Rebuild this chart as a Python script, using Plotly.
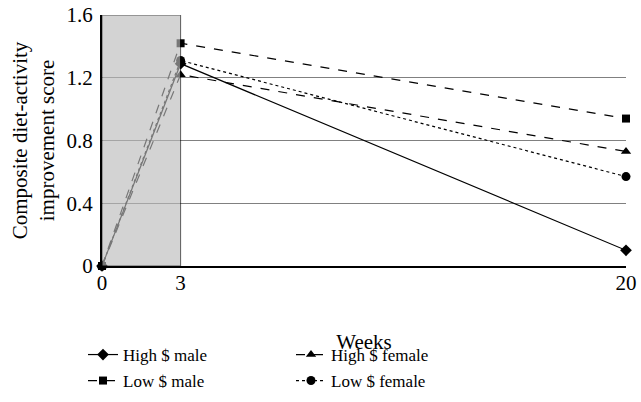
import plotly.graph_objects as go

weeks = [0, 3, 20]
high_male = [0, 1.29, 0.10]
low_male = [0, 1.42, 0.94]
high_female = [0, 1.22, 0.73]
low_female = [0, 1.31, 0.57]

y_ticks = [0, 0.4, 0.8, 1.2, 1.6]
y_tick_text = ["0", "0.4", "0.8", "1.2", "1.6"]
x_ticks = [0, 3, 20]
x_tick_text = ["0", "3", "20"]

FONT = "Liberation Serif"

series = [
    ("High $ male", high_male, "solid", "diamond", 9, "legend"),
    ("High $ female", high_female, "dash", "triangle-up", 9, "legend3"),
    ("Low $ male", low_male, "dash", "square", 8, "legend2"),
    ("Low $ female", low_female, "dot", "circle", 9, "legend4"),
]

fig = go.Figure()
for name, vals, dash, sym, size, leg in series:
    fig.add_trace(go.Scatter(
        x=weeks, y=vals, name=name, mode="lines+markers",
        line=dict(color="black", width=1.2, dash=dash),
        marker=dict(symbol=sym, size=size, color="black"),
        cliponaxis=False, legend=leg,
    ))

fig.add_shape(type="rect", xref="x", yref="y", x0=0, x1=3, y0=0, y1=1.6,
              fillcolor="rgb(187,187,187)", opacity=0.64,
              line=dict(color="black", width=1), layer="above")

legfont = dict(family=FONT, size=17, color="black")
def leg(xpx, ypx):
    return dict(x=(xpx - 102) / 524, y=(266 - ypx) / 251, xanchor="left",
                yanchor="middle", font=legfont, bgcolor="rgba(0,0,0,0)",
                itemwidth=30)

AXF = 21

fig.update_layout(
    width=641, height=402,
    margin=dict(l=102, r=15, t=15, b=136, autoexpand=False),
    plot_bgcolor="white", paper_bgcolor="white",
    font=dict(family=FONT, size=AXF, color="black"),
    showlegend=True,
    legend=leg(83, 355),
    legend2=leg(83, 381),
    legend3=leg(291, 355),
    legend4=leg(291, 381),
    xaxis=dict(
        range=[0, 20], tickvals=x_ticks, ticktext=x_tick_text,
        showgrid=False, zeroline=False, showline=True, linecolor="black",
        linewidth=2, ticks="", tickfont=dict(family=FONT, size=AXF),
        automargin=False, ticklabeloverflow="allow", ticklabelstandoff=-3,
        title=dict(text="Weeks", font=dict(family=FONT, size=AXF), standoff=40),
    ),
    yaxis=dict(
        range=[0, 1.6002], tickvals=y_ticks, ticktext=y_tick_text,
        showgrid=True, gridcolor="#808080", gridwidth=1, zeroline=False,
        showline=True, linecolor="black", linewidth=2, ticks="",
        tickfont=dict(family=FONT, size=AXF), ticklabelstandoff=3,
        automargin=False, ticklabeloverflow="allow",
        title=dict(text="Composite diet-activity<br>improvement score",
                   font=dict(family=FONT, size=AXF), standoff=6),
    ),
)

fig.write_html(
    "out.html",
    config={"displayModeBar": False},
    post_script="document.body.style.margin='0';document.body.style.overflow='hidden';",
)
